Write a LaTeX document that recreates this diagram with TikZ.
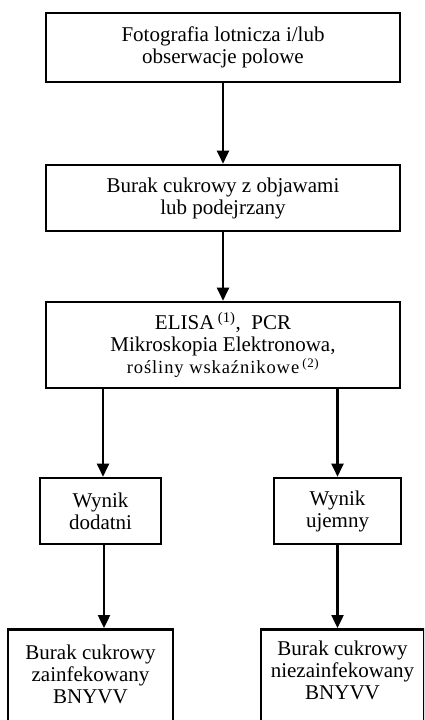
\documentclass[tikz,border=0pt]{standalone}
\usepackage{fontspec}
\setmainfont{Liberation Serif}
\usetikzlibrary{arrows.meta}

\tikzset{
  box/.style={draw, line width=2.6pt, rectangle, align=center, inner sep=0pt,
    font=\fontsize{21}{22}\selectfont},
  flow/.style={line width=2.4pt, -{Triangle[length=13pt,width=12pt]}}
}

\begin{document}
\begin{tikzpicture}[x=1pt, y=-1pt]
                      \clip (0,0) rectangle (424,720);
                      \fill[white] (0,0) rectangle (424,720);

                      \node[box, minimum width=354, minimum height=69] (foto) at (223,47.5)
                        {Fotografia lotnicza i/lub\\obserwacje polowe};
                      \node[box, minimum width=354, minimum height=66] (burak) at (223,198)
                        {Burak cukrowy z objawami\\lub podejrzany};
                      \node[box, minimum width=354, minimum height=86] (testy) at (223,345)
                        {ELISA\,\textsuperscript{(1)}, \ PCR\\Mikroskopia Elektronowa,\\
                         {\fontsize{18.5}{20}\selectfont\addfontfeatures{LetterSpace=5}rośliny wskaźnikowe\,\textsuperscript{(2)}}};
                      \node[box, minimum width=121, minimum height=66] (dodatni) at (100.5,511)
                        {Wynik\\dodatni};
                      \node[box, minimum width=127, minimum height=66] (ujemny) at (337.5,511)
                        {Wynik\\ujemny};
                      \node[box, anchor=north, minimum width=165, inner ysep=15.5, text depth=60] (zainf) at (90.5,628)
                        {Burak cukrowy\\zainfekowany\\BNYVV};
                      \node[box, anchor=north, minimum width=163, inner ysep=11.5, text depth=60] (niezainf) at (342.5,628)
                        {Burak cukrowy\\niezainfekowany\\BNYVV};

                      \draw[flow] (foto) -- (burak);
                      \draw[flow] (burak) -- (testy);
                      \draw[flow] (testy.south -| 103,0) -- (103,0 |- dodatni.north);
                      \draw[flow] (testy.south -| ujemny) -- (ujemny);
                      \draw[flow] (dodatni.south -| 104,0) -- (104,0 |- zainf.north);
                      \draw[flow] (ujemny.south) -- (ujemny.south |- niezainf.north);
                  \end{tikzpicture}
\end{document}
